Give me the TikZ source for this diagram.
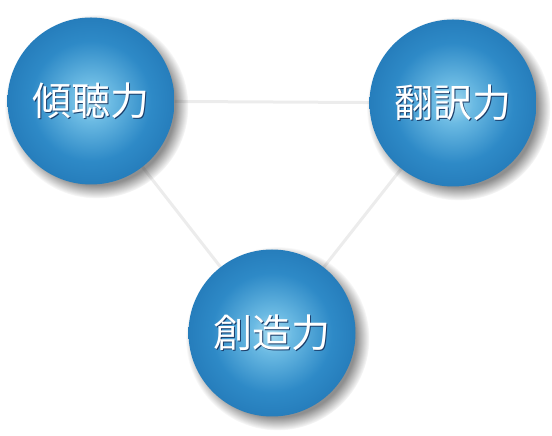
\documentclass[tikz,border=0pt]{standalone}
\usepackage{fontspec}
\newfontfamily\cjk{Noto Sans CJK JP}
\usepackage{xcolor}
\usepackage{tikz}
\usetikzlibrary{shadows,fadings,backgrounds}

\definecolor{linkgray}{RGB}{236,236,236}
\definecolor{glowblue}{RGB}{25,60,105}
\pgfdeclareradialshading{sphere}{\pgfpoint{0bp}{0bp}}{%
  rgb(0bp)=(0.66,0.86,0.94); rgb(6bp)=(0.42,0.73,0.89); rgb(18bp)=(0.18,0.54,0.78);
  rgb(34bp)=(0.11,0.43,0.68); rgb(44bp)=(0.08,0.36,0.60); rgb(50bp)=(0.06,0.29,0.50)}
\newcommand{\glowtext}[1]{\makebox[0pt][l]{\hspace{1pt}\raisebox{-1pt}{\color{glowblue}#1}}#1}

\begin{document}
\begin{tikzpicture}[
    x=1pt, y=1pt,
    skill/.style={circle, shading=sphere, minimum size=167pt, inner sep=0pt,
      text=white, font=\cjk\fontsize{39}{42}\selectfont,
      circular drop shadow={shadow xshift=5pt, shadow yshift=-5pt, opacity=0.55, fill=black!80}},
    link/.style={draw=linkgray, line width=3pt}
]
\useasboundingbox (0,0) rectangle (552,436);
\node[skill] (listen) at (91,335) {\glowtext{傾聴力}};
\node[skill] (translate) at (453,333) {\glowtext{翻訳力}};
\node[skill] (create) at (272,103) {\glowtext{創造力}};
\begin{scope}[on background layer]
\draw[link] (listen) -- (translate);
\draw[link] (listen) -- (create);
\draw[link] (translate) -- (create);
\end{scope}
\end{tikzpicture}
\end{document}
